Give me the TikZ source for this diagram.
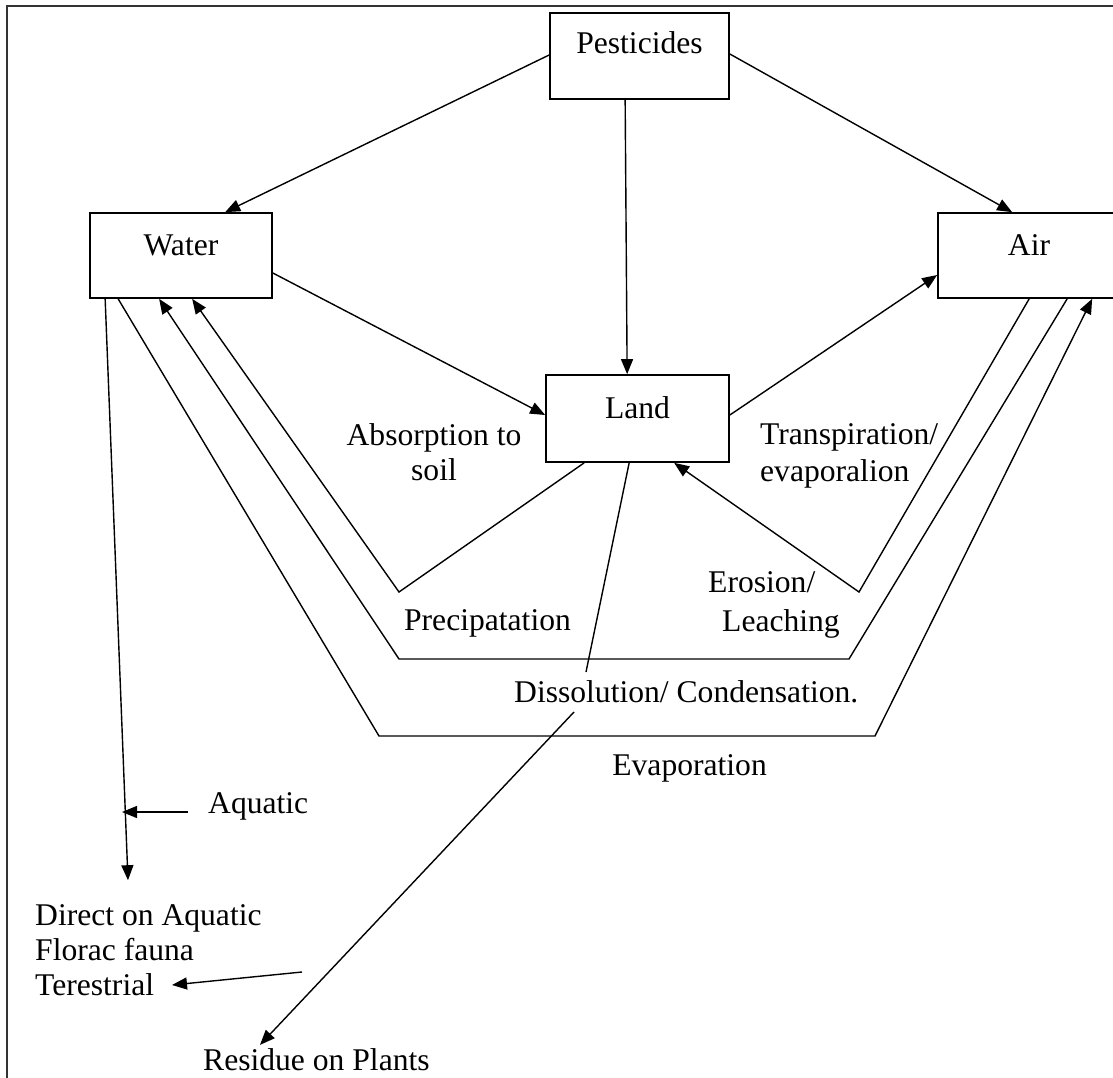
\documentclass[tikz,border=0pt]{standalone}
\usepackage{fontspec}
\setmainfont{Liberation Serif}
\usetikzlibrary{arrows.meta,calc}
\begin{document}
\begin{tikzpicture}[x=1pt,y=-1pt,
  every node/.style={font=\fontsize{31.6pt}{35pt}\selectfont, inner sep=0pt},
  box/.style={draw, line width=1.7pt, minimum width=182pt, minimum height=85pt, text height=22pt, text depth=22pt},
  conn/.style={line width=1.4pt},
  arr/.style={conn, -{Triangle[length=15pt,width=12pt]}}
]
\useasboundingbox (0,0) rectangle (1113,1078);
\clip (0,0) rectangle (1113,1078);
\draw[line width=2pt, black!80] (7,1090) -- (7,6) -- (1120,6);

% boxes
\node[box, minimum width=179pt, minimum height=86pt, text height=20pt, text depth=24pt] (pest) at (639.5,56) {Pesticides};
\node[box] (water) at (181,255.5) {Water};
\node[box, minimum width=183pt, minimum height=87pt] (land) at (637.5,418.5) {Land};
\node[box] (air) at (1029,255.5) {Air};

% labels
\node[anchor=center, align=center] (absorb) at (434,452) {Absorption to\\soil};
\node[anchor=west, align=left] (transp) at (760,456) {Transpiration/\\[2pt]evaporalion};
\node[anchor=west, align=left] (erosion) at (708,605) {Erosion/\\[4.5pt]\hspace*{14pt}Leaching};
\node[anchor=base] (precip) at (487.5,630) {Precipatation};
\node[anchor=base west] (diss) at (514,702) {Dissolution/ Condensation.};
\node[anchor=base east] (evap) at (767,775) {Evaporation};
\node[anchor=base west] (aquatic) at (208,813) {Aquatic};
\node[anchor=west, align=left] (direct) at (35,950) {Direct on Aquatic\\Florac fauna\\Terestrial};
\node[anchor=base west] (residue) at (203,1070) {Residue on Plants};

% bend points and free ends
\coordinate (pc) at (399,592);
\coordinate (ec) at (859,592);
\coordinate (d1) at (849,659);
\coordinate (d2) at (399,659);
\coordinate (v1) at (379,736);
\coordinate (v2) at (875,736);
\coordinate (dtop) at (586,672);
\coordinate (dbot) at (574,712);
\coordinate (ters) at (302,972);

% connectors
\draw[arr] ($(pest.west)+(0,-1)$) -- ($(water.north west)+(136,0)$);
\draw[arr] ($(pest.south west)+(76,0)$) -- ($(land.north west)+(82,0)$);
\draw[arr] ($(pest.east)+(0,-2)$) -- ($(air.north west)+(75,0)$);
\draw[arr] ($(water.east)+(0,17.5)$) -- ($(land.west)+(0,-3.5)$);
\draw[arr] ($(land.east)+(0,-3.5)$) -- ($(air.west)+(0,19.5)$);
\draw[arr] ($(land.south west)+(39,0)$) -- (pc) -- ($(water.south west)+(103,0)$);
\draw[arr] ($(air.south west)+(92,0)$) -- (ec) -- ($(land.south west)+(129,0)$);
\draw[arr] ($(air.south west)+(130,0)$) -- (d1) -- (d2) -- ($(water.south west)+(70,0)$);
\draw[arr] ($(water.south west)+(29,0)$) -- (v1) -- (v2) -- ($(air.south west)+(155,0)$);
\draw[conn] ($(land.south west)+(84,0)$) -- (dtop);
\draw[arr] (dbot) -- ($(residue.north west)+(57,-3)$);
\draw[arr] ($(water.south west)+(16,0)$) -- ($(direct.north west)+(93,-24)$);
\draw[arr] ($(aquatic.base west)+(-20,-1)$) -- ($(aquatic.base west)+(-86,-1)$);
\draw[arr] (ters) -- ($(direct.west)+(137,35)$);
\end{tikzpicture}
\end{document}
